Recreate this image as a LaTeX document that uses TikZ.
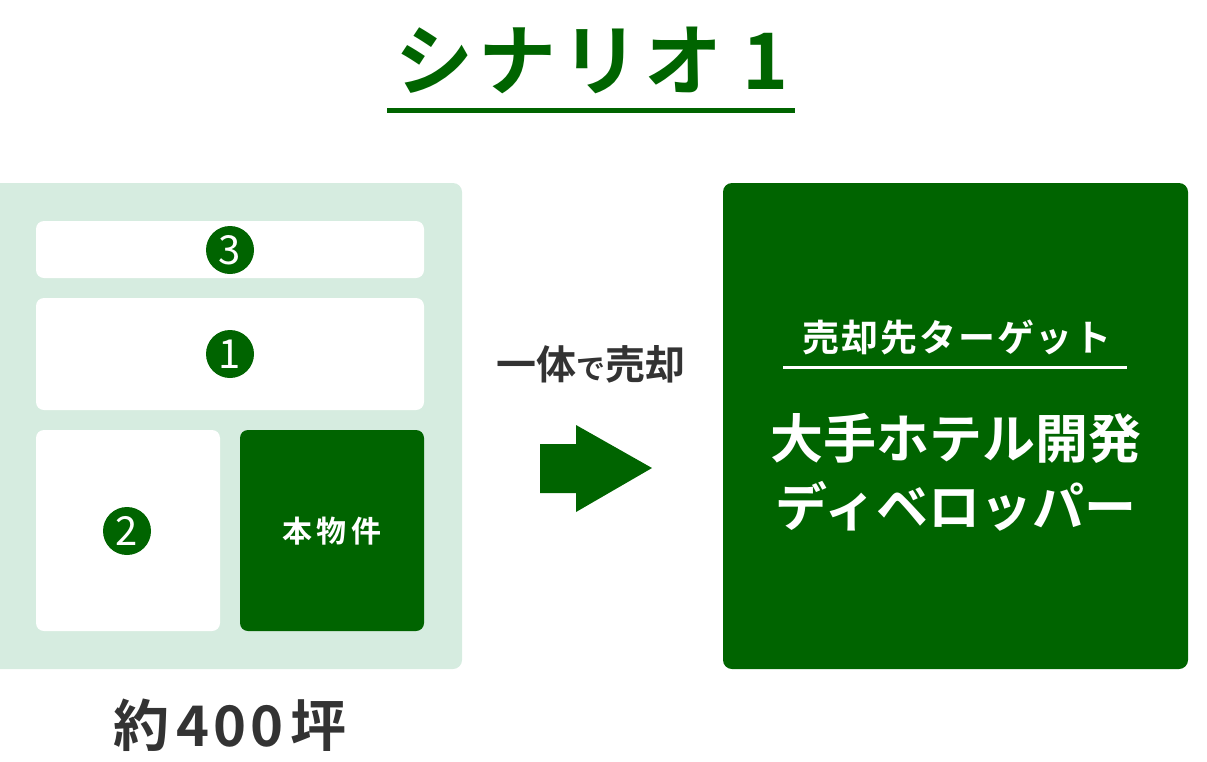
\documentclass[tikz,border=0pt]{standalone}
\usepackage{fontspec}
\setmainfont{Noto Sans CJK JP}[BoldFont={Noto Sans CJK JP Bold}]
\usepackage{tikz}
\definecolor{darkgreen}{HTML}{006400}
\definecolor{palegreen}{HTML}{D6ECE0}
\definecolor{darktext}{HTML}{333333}
\tikzset{
  lot/.style={fill=white, rounded corners=8pt},
  numdot/.style={circle, fill=darkgreen, text=white, minimum size=48pt, inner sep=0pt, font=\fontsize{40}{40}\selectfont},
}

\begin{document}
\begin{tikzpicture}[x=1pt, y=-1pt]
  \useasboundingbox (0, 0) rectangle (1207, 761);
  % title
  \node[text=darkgreen, font=\fontsize{78}{78}\bfseries] (title) at (592, 60) {シ\hspace{5pt}ナ\hspace{5pt}リ\hspace{5pt}オ\hspace{20pt}1};
  \fill[darkgreen] (387, 108) rectangle (795, 113);
  % site
  \fill[palegreen, rounded corners=9pt] (-10, 183) rectangle (462, 669);
  \fill[lot] (36, 221) rectangle (424, 278);
  \fill[lot] (36, 298) rectangle (424, 410);
  \fill[lot] (36, 430) rectangle (220, 631);
  \fill[darkgreen, rounded corners=8pt] (240, 430) rectangle (424, 631);
  \node[numdot] (three) at (230, 250) {3};
  \node[numdot] (one) at (230, 354) {1};
  \node[numdot] (two) at (127, 531) {2};
  \node[text=white, font=\fontsize{30}{30}\bfseries] (subject) at (332, 531) {本\hspace{5pt}物\hspace{5pt}件};
  \node[text=darktext, font=\fontsize{56}{56}\bfseries] (area) at (230, 725) {約\hspace{7pt}4\hspace{4pt}0\hspace{4pt}0\hspace{7pt}坪};
  % arrow
  \node[text=darktext, font=\fontsize{40}{40}\bfseries] (sale) at (591, 364) {一体{\fontsize{29}{29}\selectfont で}売却};
  \fill[darkgreen] (540, 444) -- (576, 444) -- (576, 425) -- (652, 468) -- (576, 512) -- (576, 493) -- (540, 493) -- cycle;
  % target
  \fill[darkgreen, rounded corners=9pt] (723, 183) rectangle (1188, 669);
  \node[text=white, font=\fontsize{37}{37}\bfseries] (target) at (957, 337) {売\hspace{2pt}却\hspace{2pt}先\hspace{2pt}タ\hspace{2pt}ー\hspace{2pt}ゲ\hspace{2pt}ッ\hspace{2pt}ト};
  \fill[white] (783, 365.5) rectangle (1127, 369);
  \node[text=white, font=\fontsize{53}{53}\bfseries] (hotel) at (956, 438) {大手ホテル開発};
  \node[text=white, font=\fontsize{52}{52}\bfseries] (developer) at (956, 506) {ディベロッパー};
\end{tikzpicture}
\end{document}
